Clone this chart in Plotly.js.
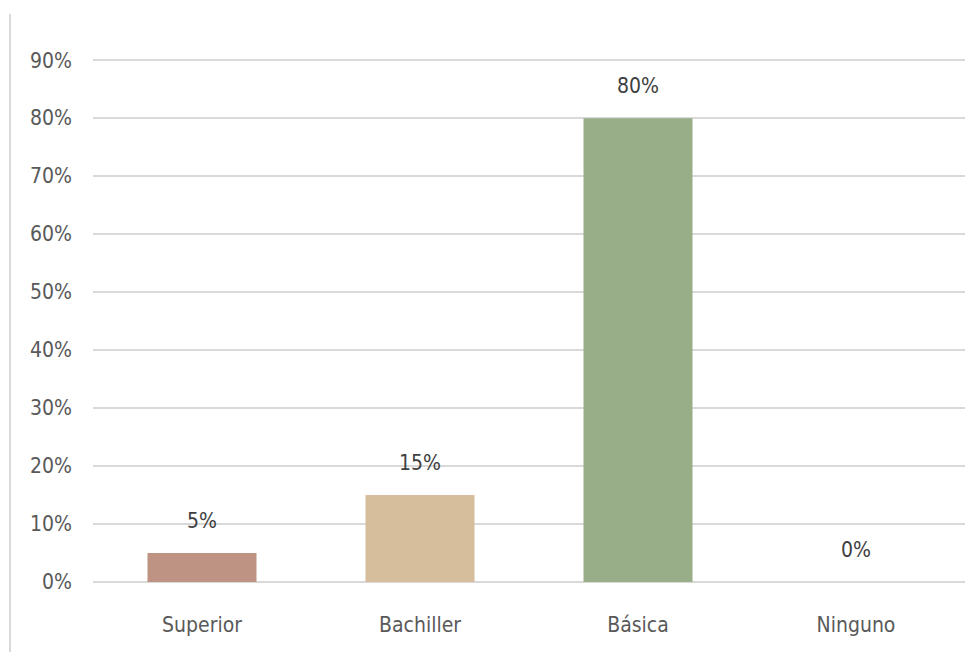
<!DOCTYPE html>
<html>
<head>
<meta charset="utf-8">
<script src="https://cdn.plot.ly/plotly-3.0.1.min.js"></script>
<style>html,body{margin:0;padding:0;background:#fff;}#chart{width:980px;height:653px;}</style>
</head>
<body>
<div id="chart"></div>
<script>
const categories = ["Superior", "Bachiller", "Básica", "Ninguno"];
const values = [0.05, 0.15, 0.80, 0.00];
const labels = ["5%", "15%", "80%", "0%"];
const barColors = ["#BE9384", "#D6BD9C", "#98AE88", "#F2F2F2"];
const yTicks = [0, 0.1, 0.2, 0.3, 0.4, 0.5, 0.6, 0.7, 0.8, 0.9];
const yTickLabels = ["0%", "10%", "20%", "30%", "40%", "50%", "60%", "70%", "80%", "90%"];

const font = "'DejaVu Sans Condensed', 'DejaVu Sans', sans-serif";

const trace = {
  type: "bar",
  x: categories,
  y: values,
  marker: {color: barColors},
  width: 0.5,
  hoverinfo: "none"
};

const annotations = categories.map((c, i) => ({
  x: c, y: values[i], xref: "x", yref: "y",
  text: labels[i], showarrow: false,
  yanchor: "bottom", yshift: 18,
  font: {family: font, size: 21, color: "#404040"}
}));

const layout = {
  width: 980, height: 653,
  margin: {l: 93, r: 15, t: 59, b: 71},
  paper_bgcolor: "#fff", plot_bgcolor: "#fff",
  showlegend: false,
  xaxis: {
    type: "category",
    showgrid: false, showline: false, zeroline: false,
    ticks: "", ticklabelstandoff: 28,
    tickfont: {family: font, size: 21, color: "#595959"}
  },
  yaxis: {
    range: [0, 0.902],
    tickvals: yTicks, ticktext: yTickLabels,
    showgrid: true, gridcolor: "#D9D9D9", gridwidth: 2,
    zeroline: true, zerolinecolor: "#D9D9D9", zerolinewidth: 2,
    showline: false, ticks: "", ticklabelstandoff: 20,
    tickfont: {family: font, size: 21, color: "#595959"},
    fixedrange: true
  },
  annotations: annotations,
  shapes: [{
    type: "line", xref: "paper", yref: "paper",
    x0: -0.0952, x1: -0.0952, y0: 1.086, y1: -0.134,
    line: {color: "#D9D9D9", width: 2}
  }]
};

Plotly.newPlot("chart", [trace], layout, {displayModeBar: false, staticPlot: true});
</script>
</body>
</html>
